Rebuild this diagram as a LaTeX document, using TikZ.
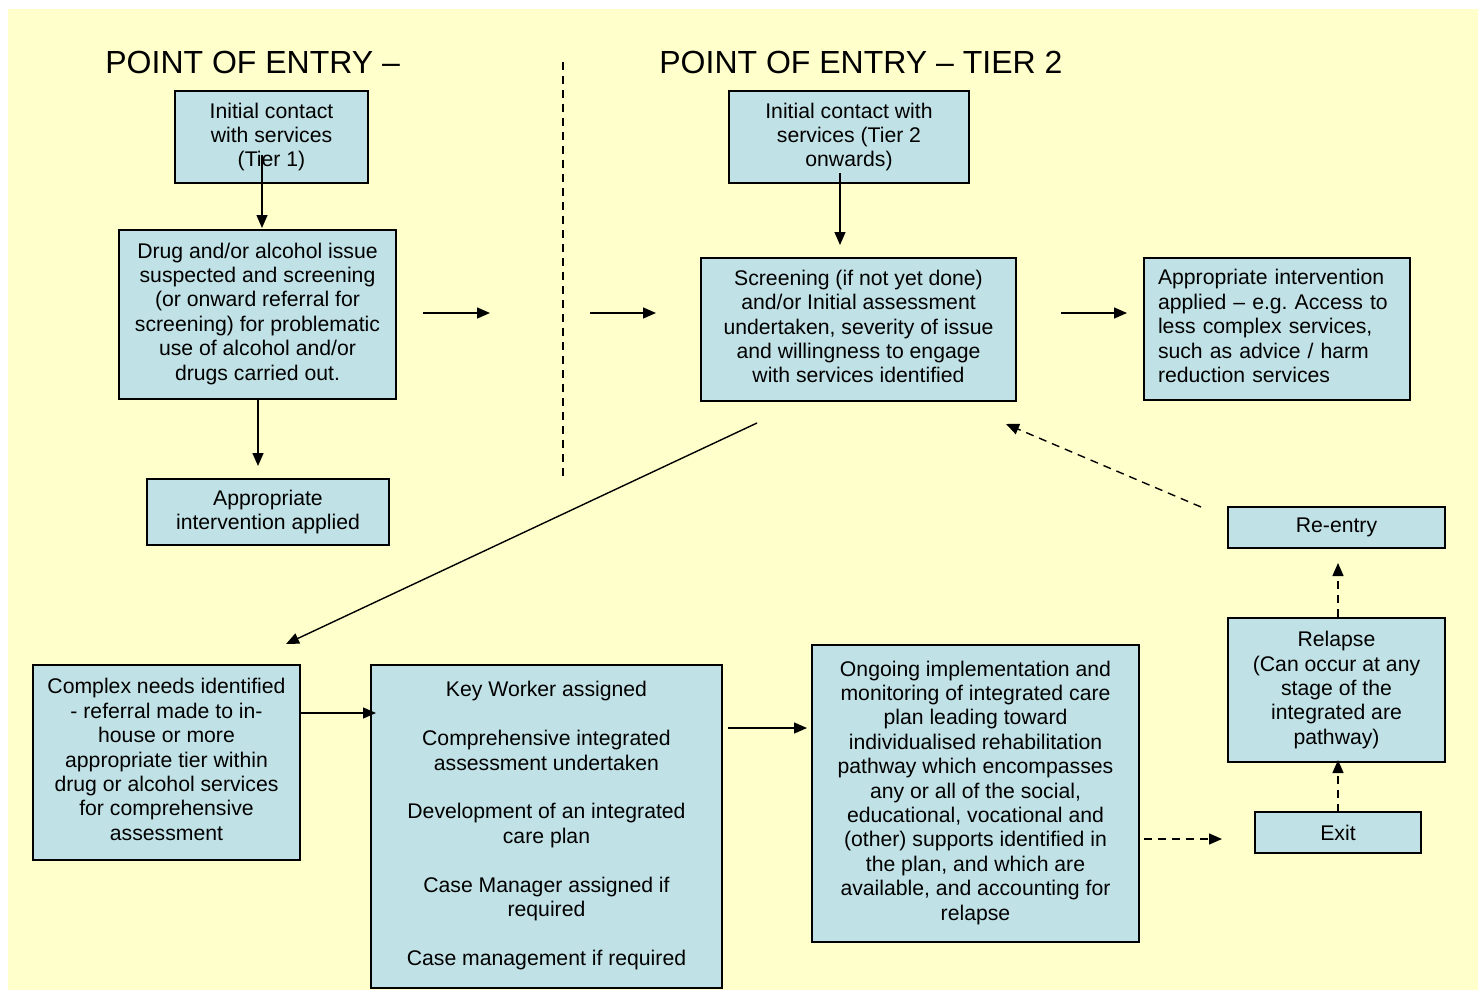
\documentclass[tikz,border=0pt]{standalone}
\usepackage{fontspec}
\setmainfont{Liberation Sans}
\usetikzlibrary{arrows.meta}
\definecolor{bgyellow}{RGB}{255,255,204}
\definecolor{boxblue}{RGB}{192,225,229}
\newcommand\boxfont{\fontsize{10.6pt}{12.2pt}\selectfont}
\newcommand\titlefont{\fontsize{16pt}{19pt}\selectfont}
\newcommand\lift{\rule[-3pt]{0pt}{3pt}}
\frenchspacing
\tikzset{
  box/.style={draw=black, line width=0.9pt, fill=boxblue, inner sep=0pt, align=center, font=\boxfont},
  arr/.style={line width=0.7pt, -{Triangle[length=6.5pt,width=5.5pt]}},
  darr/.style={arr, dash pattern=on 4pt off 3pt},
  sep/.style={line width=0.6pt, dash pattern=on 4pt off 3pt},
  ttl/.style={anchor=west, inner sep=0pt, font=\titlefont}
}
\begin{document}
\begin{tikzpicture}[x=0.5pt, y=-0.5pt]
\useasboundingbox (0,0) rectangle (1484,995);
\fill[white] (0,0) rectangle (1484,995);
\fill[bgyellow] (8,9) rectangle (1478,990);

% titles
\node[ttl] (t1) at (105,62) {POINT OF ENTRY –};
\node[ttl] (t2) at (659,62) {POINT OF ENTRY – TIER 2};

% separator
\coordinate (s1) at (563,62);
\coordinate (s2) at (563,477);
\draw[sep] (s1) -- (s2);

% boxes
\node[box, minimum width=96.5pt, minimum height=46pt] (A) at (271.5,137)
  {Initial contact\\with services\\(Tier 1)};
\node[box, minimum width=138.5pt, minimum height=84.5pt] (B) at (257.5,314.5)
  {Drug and/or alcohol issue\\suspected and screening\\(or onward referral for\\screening) for problematic\\use of alcohol and/or\\drugs carried out.\lift};
\node[box, minimum width=121pt, minimum height=33pt] (C) at (268,512)
  {Appropriate\\intervention applied};
\node[box, minimum width=120pt, minimum height=46pt] (D) at (849,137)
  {Initial contact with\\services (Tier 2\\onwards)};
\node[box, minimum width=157.5pt, minimum height=71.5pt] (E) at (858.5,329.5)
  {Screening (if not yet done)\\and/or Initial assessment\\undertaken, severity of issue\\and willingness to engage\\with services identified\lift};
\node[box, align=left, text width=119pt, inner xsep=7pt, minimum height=71pt] (F) at (1277,329)
  {Appropriate intervention\\applied – e.g. Access to\\less complex services,\\such as advice / harm\\reduction services\lift};
\node[box, minimum width=133.5pt, minimum height=97.5pt] (G) at (166.5,762.5)
  {Complex needs identified\\- referral made to in-\\house or more\\appropriate tier within\\drug or alcohol services\\for comprehensive\\assessment\lift};
\node[box, minimum width=175.5pt, minimum height=161.5pt] (H) at (546.5,826.5)
  {Key Worker assigned\\[12.2pt]Comprehensive integrated\\assessment undertaken\\[12.2pt]Development of an integrated\\care plan\\[12.2pt]Case Manager assigned if\\required\\[12.2pt]Case management if required\lift};
\node[box, minimum width=163.5pt, minimum height=148.5pt] (I) at (975.5,793.5)
  {Ongoing implementation and\\monitoring of integrated care\\plan leading toward\\individualised rehabilitation\\pathway which encompasses\\any or all of the social,\\educational, vocational and\\(other) supports identified in\\the plan, and which are\\available, and accounting for\\relapse\lift};
\node[box, minimum width=108.5pt, minimum height=72pt] (R) at (1336.5,690)
  {Relapse\\(Can occur at any\\stage of the\\integrated are\\pathway)};
\node[box, minimum width=108.5pt, minimum height=20.5pt] (RE) at (1336.5,527.5)
  {Re-entry};
\node[box, minimum width=83pt, minimum height=20.5pt] (X) at (1338,832.5)
  {Exit};

% connector end points
\coordinate (ab1) at (262,155);  \coordinate (ab2) at (262,228);
\coordinate (bc1) at (258,399);  \coordinate (bc2) at (258,466);
\coordinate (m1a) at (423,313);  \coordinate (m1b) at (490,313);
\coordinate (m2a) at (590,313);  \coordinate (m2b) at (656,313);
\coordinate (de1) at (840,173);  \coordinate (de2) at (840,245);
\coordinate (ef1) at (1061,313); \coordinate (ef2) at (1127,313);
\coordinate (eg1) at (757,423);  \coordinate (eg2) at (286,644);
\coordinate (gh1) at (300,713);  \coordinate (gh2) at (376,713);
\coordinate (hi1) at (728,728);  \coordinate (hi2) at (807,728);
\coordinate (ix1) at (1144,839); \coordinate (ix2) at (1222,839);
\coordinate (xr1) at (1338,812); \coordinate (xr2) at (1338,760);
\coordinate (rr1) at (1338,617); \coordinate (rr2) at (1338,563);
\coordinate (re1) at (1201,507); \coordinate (re2) at (1006,424);

% connectors
\draw[arr] (ab1) -- (ab2);
\draw[arr] (bc1) -- (bc2);
\draw[arr] (m1a) -- (m1b);
\draw[arr] (m2a) -- (m2b);
\draw[arr] (de1) -- (de2);
\draw[arr] (ef1) -- (ef2);
\draw[arr] (eg1) -- (eg2);
\draw[arr] (gh1) -- (gh2);
\draw[arr] (hi1) -- (hi2);
\draw[darr] (ix1) -- (ix2);
\draw[darr] (xr1) -- (xr2);
\draw[darr] (rr1) -- (rr2);
\draw[darr] (re1) -- (re2);
\end{tikzpicture}
\end{document}
